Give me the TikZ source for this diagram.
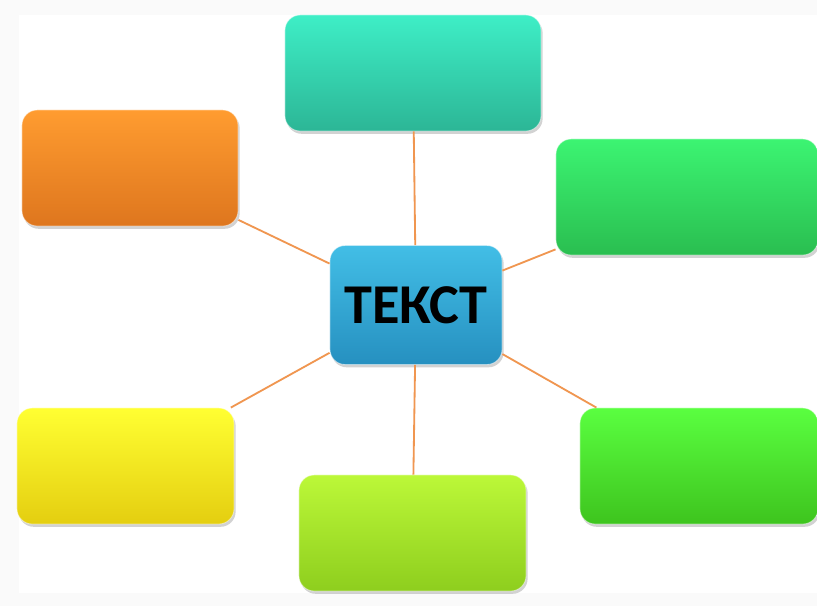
\documentclass[tikz,border=0pt]{standalone}
\usepackage{fontspec}
\setmainfont{Carlito}
\usepackage{tikz}
\usetikzlibrary{
    shadows,
    positioning
}
\definecolor{linkorange}{RGB}{240,150,80}
\definecolor{framegray}{RGB}{250,250,250}
\definecolor{tealtop}{RGB}{62,238,198}
\definecolor{tealbot}{RGB}{44,182,150}
\definecolor{orangetop}{RGB}{255,156,48}
\definecolor{orangebot}{RGB}{222,118,30}
\definecolor{emeraldtop}{RGB}{60,244,114}
\definecolor{emeraldbot}{RGB}{42,190,80}
\definecolor{bluetop}{RGB}{66,190,230}
\definecolor{bluebot}{RGB}{38,144,192}
\definecolor{yellowtop}{RGB}{255,255,50}
\definecolor{yellowbot}{RGB}{228,206,16}
\definecolor{limetop}{RGB}{188,248,56}
\definecolor{limebot}{RGB}{142,206,30}
\definecolor{greentop}{RGB}{90,255,64}
\definecolor{greenbot}{RGB}{62,196,30}
\tikzset{
    topic/.style={rounded corners=0.38cm, minimum height=2.9cm,
        draw=white, draw opacity=0.5, line width=0.6pt,
        drop shadow={shadow xshift=0.04cm, shadow yshift=-0.07cm, opacity=0.35}},
    link/.style={draw=linkorange, line width=1.3pt}
}

\begin{document}
\begin{tikzpicture}[x=0.025cm, y=-0.025cm]
                        \useasboundingbox (0, 0) rectangle (817, 606);
                        \fill[framegray] (0, 0) rectangle (817, 606);
                        \fill[white] (19, 15) rectangle (817, 593);
                        \node[topic, minimum width=6.4cm, top color=tealtop, bottom color=tealbot] (t) at (413, 73) {};
                        \node[topic, minimum width=5.4cm, top color=orangetop, bottom color=orangebot] (tl) at (130, 168) {};
                        \node[topic, minimum width=6.55cm, top color=emeraldtop, bottom color=emeraldbot] (tr) at (687, 197) {};
                        \node[topic, minimum width=5.425cm, top color=yellowtop, bottom color=yellowbot] (bl) at (125.5, 466) {};
                        \node[topic, minimum width=5.675cm, top color=limetop, bottom color=limebot] (b) at (412.5, 533) {};
                        \node[topic, minimum width=5.95cm, top color=greentop, bottom color=greenbot] (br) at (699, 466) {};
                        \node[topic, minimum width=4.3cm, minimum height=2.975cm, top color=bluetop, bottom color=bluebot,
                            font=\bfseries\fontsize{40}{48}\selectfont] (c) at (416, 305) {ТЕКСТ};
                        \draw
                        (c) edge[link] (t)
                        (c) edge[link] (tl)
                        (c) edge[link] (tr)
                        (c) edge[link] (bl)
                        (c) edge[link] (b)
                        (c) edge[link] (br);
                    \end{tikzpicture}
\end{document}
